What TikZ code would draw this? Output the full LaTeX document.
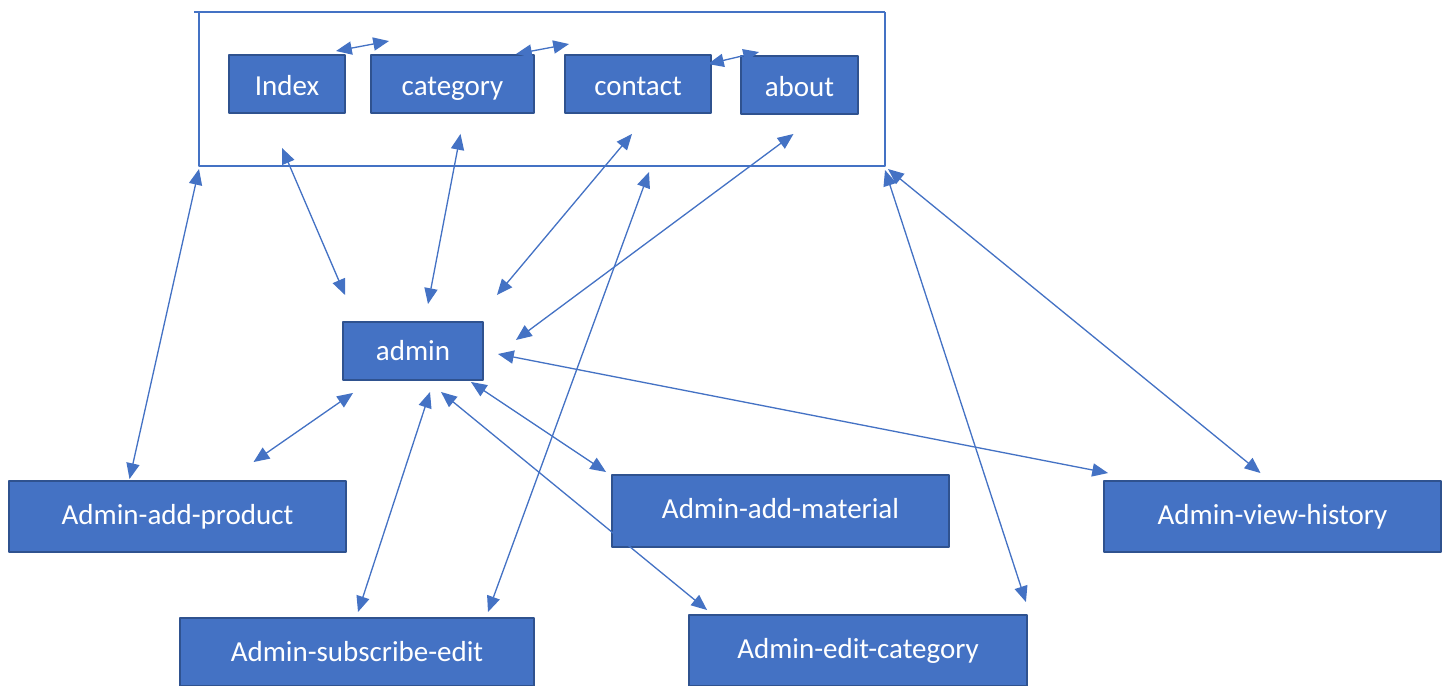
\documentclass[tikz,border=0pt]{standalone}
\usepackage{fontspec}
\setmainfont{Carlito}
\usetikzlibrary{arrows.meta}
\definecolor{boxblue}{HTML}{4472C4}
\definecolor{boxedge}{HTML}{2F528F}
\begin{document}
\begin{tikzpicture}[x=0.02cm, y=0.02cm, line join=round,
	box/.style={draw=boxedge, line width=1.1pt, fill=boxblue, text=white, font=\fontsize{16.5}{19}\selectfont, inner sep=0pt, minimum height=1.16cm},
	page/.style={box, text height=13pt, text depth=0pt},
	wide/.style={box, minimum width=6.74cm, minimum height=1.42cm},
	link/.style={draw=boxblue, line width=0.75pt, {Triangle[length=9pt,width=7.5pt]}-{Triangle[length=9pt,width=7.5pt]}},
	frame/.style={draw=boxblue, line width=0.6pt}]
	\useasboundingbox (0,0) rectangle (1443,686);
	% frame round the pages
	\coordinate (fsw) at (199,520);
	\coordinate (fse) at (885,520);
	\draw[frame] (194,674)--(885,674);
	\draw[frame] (199,674)--(fsw)--(fse)--(885,674);
	% pages
	\node[page, minimum width=2.32cm] (index) at (287,602) {Index};
	\node[page, minimum width=3.26cm] (category) at (452.5,602) {category};
	\node[page, minimum width=2.92cm] (contact) at (638,602) {contact};
	\node[page, minimum width=2.34cm] (about) at (799.5,601) {about};
	\node[box, minimum width=2.8cm] (admin) at (413,335) {admin};
	\node[wide] (addproduct) at (177.5,169.5) {Admin-add-product};
	\node[wide, minimum height=1.44cm] (addmaterial) at (780.5,175) {\raisebox{0.1cm}{Admin-add-material}};
	\node[wide] (viewhistory) at (1272.5,169.5) {Admin-view-history};
	\node[wide, minimum width=7.08cm, minimum height=1.36cm] (subscribe) at (357,34) {Admin-subscribe-edit};
	\node[wide, minimum width=6.76cm] (editcategory) at (858,35.5) {\raisebox{0.06cm}{Admin-edit-category}};
	% links between pages
	\draw[link] ([shift={(-10,3)}]index.north east)--([shift={(19,13)}]category.north west);
	\draw[link] ([shift={(-19,0)}]category.north east)--([shift={(5,10)}]contact.north west);
	\draw[link] ([shift={(-4,-10)}]contact.north east)--([shift={(19,3)}]about.north west);
	\draw[link] ([shift={(-5,-34)}]index.south)--([shift={(3,26)}]admin.north west);
	\draw[link] ([shift={(8,-20)}]category.south)--([shift={(15,17)}]admin.north);
	\draw[link] ([shift={(-6,-20)}]contact.south)--([shift={(13,26)}]admin.north east);
	\draw[link] ([shift={(-6,-19)}]about.south)--([shift={(32,11)}]admin.east);
	% links of admin
	\draw[link] ([shift={(0,-3)}]fsw)--([shift={(-48,1)}]addproduct.north);
	\draw[link] ([shift={(11,-12)}]admin.south west)--([shift={(76,18)}]addproduct.north);
	\draw[link] ([shift={(17,-11)}]admin.south)--([shift={(1,5)}]subscribe.north);
	\draw[link] ([shift={(11,-58)}]contact.south)--([shift={(131,5)}]subscribe.north);
	\draw[link] ([shift={(-13,-1)}]admin.south east)--([shift={(-5,2)}]addmaterial.north west);
	\draw[link] ([shift={(28,-11)}]admin.south)--([shift={(19,4)}]editcategory.north west);
	\draw[link] ([shift={(14,-3)}]admin.east)--([shift={(5,7)}]viewhistory.north west);
	\draw[link] ([shift={(0,-4)}]fse)--([shift={(-2,12)}]editcategory.north east);
	\draw[link] ([shift={(3,-3)}]fse)--([shift={(-12,7)}]viewhistory.north);
\end{tikzpicture}
\end{document}
